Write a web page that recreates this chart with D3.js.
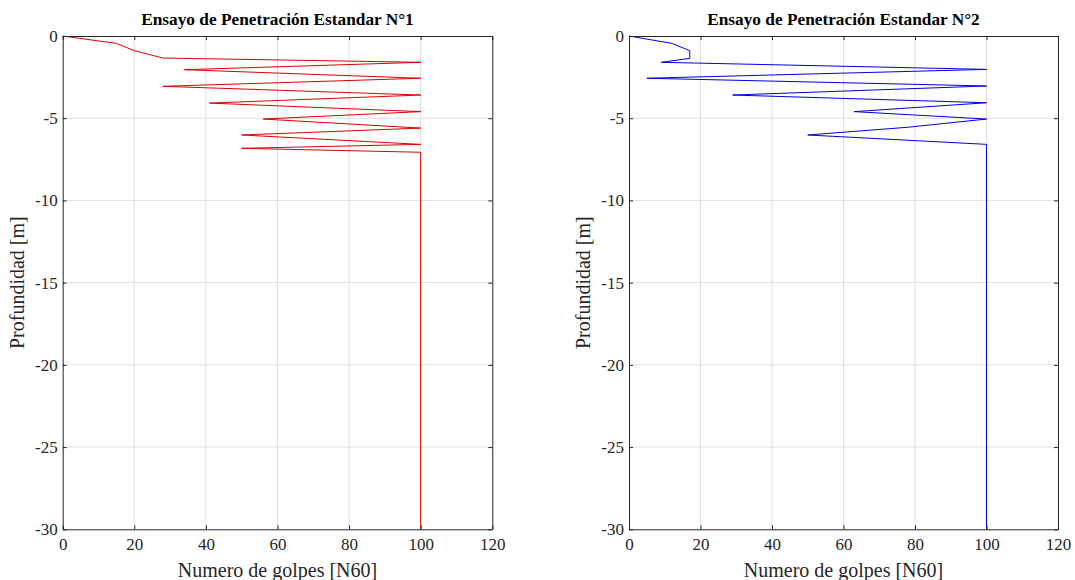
<!DOCTYPE html>
<html>
<head>
<meta charset="utf-8">
<script src="https://cdn.jsdelivr.net/npm/d3@7"></script>
<style>
  body { margin: 0; background: #fff; }
  svg text { font-family: "Liberation Serif", "DejaVu Serif", serif !important; fill: #262626; }
  .grid line { stroke: #dfdfdf; stroke-width: 1; }
</style>
</head>
<body>
<svg width="1075" height="580"></svg>
<script>
// SPT N°1
const golpes1 = [0, 15, 20, 28, 100, 34, 100, 28, 100, 41, 100, 56, 100, 50, 100, 50, 100, 100];
const prof1 = [0, -0.45, -0.89, -1.34, -1.6, -2.05, -2.57, -3.06, -3.59, -4.08, -4.6, -5.05, -5.6, -6.02, -6.59, -6.83, -7.07, -30];

// SPT N°2
const golpes2 = [0, 12, 17, 17, 9, 100, 5, 100, 29, 100, 63, 100, 78, 50, 100, 100];
const prof2 = [0, -0.45, -0.89, -1.36, -1.6, -2.03, -2.57, -3.04, -3.59, -4.06, -4.6, -5.05, -5.55, -6.02, -6.59, -30];

const xTicks = [0, 20, 40, 60, 80, 100, 120];
const yTicks = [0, -5, -10, -15, -20, -25, -30];

const svg = d3.select("svg");

const panels = [
    { title: "Ensayo de Penetración Estandar N°1", x: golpes1, y: prof1, color: "#e00000", left: 62.7, right: 492.3 },
    { title: "Ensayo de Penetración Estandar N°2", x: golpes2, y: prof2, color: "#0000e8", left: 629, right: 1058 }
];
const plotTop = 36, plotBottom = 529.3;

panels.forEach(p => {
    const x = d3.scaleLinear().domain([0, 120]).range([p.left, p.right]);
    const y = d3.scaleLinear().domain([-30, 0]).range([plotBottom, plotTop]);
    const g = svg.append("g");

    // grid
    const grid = g.append("g").attr("class", "grid");
    grid.selectAll(".gx").data(xTicks.slice(1, -1)).enter().append("line")
        .attr("x1", d => x(d)).attr("x2", d => x(d))
        .attr("y1", plotTop).attr("y2", plotBottom);
    grid.selectAll(".gy").data(yTicks.slice(1, -1)).enter().append("line")
        .attr("y1", d => y(d)).attr("y2", d => y(d))
        .attr("x1", p.left).attr("x2", p.right);

    // data line
    const pts = p.x.map((v, i) => [v, p.y[i]]);
    g.append("path")
        .datum(pts)
        .attr("fill", "none")
        .attr("stroke", p.color)
        .attr("stroke-width", 1)
        .attr("d", d3.line().x(d => x(d[0])).y(d => y(d[1])));

    // axes (inward ticks, box)
    const axisStyle = sel => {
        sel.select(".domain").attr("stroke", "#262626");
        sel.selectAll(".tick line").attr("stroke", "#262626");
    };
    const fmt = d => String(d);
    g.append("g").attr("transform", `translate(0,${plotBottom})`)
        .call(d3.axisBottom(x).tickValues(xTicks).tickFormat(fmt).tickSize(-4).tickSizeOuter(0).tickPadding(9))
        .call(axisStyle)
        .selectAll("text").attr("font-size", 17);
    g.append("g").attr("transform", `translate(0,${plotTop})`)
        .call(d3.axisTop(x).tickValues(xTicks).tickSize(-4).tickSizeOuter(0).tickFormat(""))
        .call(axisStyle);
    g.append("g").attr("transform", `translate(${p.left},0)`)
        .call(d3.axisLeft(y).tickValues(yTicks).tickFormat(fmt).tickSize(-4).tickSizeOuter(0).tickPadding(5))
        .call(axisStyle)
        .selectAll("text").attr("font-size", 17);
    g.append("g").attr("transform", `translate(${p.right},0)`)
        .call(d3.axisRight(y).tickValues(yTicks).tickSize(-4).tickSizeOuter(0).tickFormat(""))
        .call(axisStyle);

    // labels
    const cx = (p.left + p.right) / 2;
    g.append("text").attr("x", cx).attr("y", 25)
        .attr("text-anchor", "middle").attr("font-size", 17.3).attr("font-weight", "bold")
        .style("fill", "#000").text(p.title);
    g.append("text").attr("x", cx).attr("y", 577)
        .attr("text-anchor", "middle").attr("font-size", 20).text("Numero de golpes [N60]");
    g.append("text")
        .attr("transform", `translate(${p.left - 39},${(plotTop + plotBottom) / 2}) rotate(-90)`)
        .attr("text-anchor", "middle").attr("font-size", 20).text("Profundidad [m]");
});
</script>
</body>
</html>
